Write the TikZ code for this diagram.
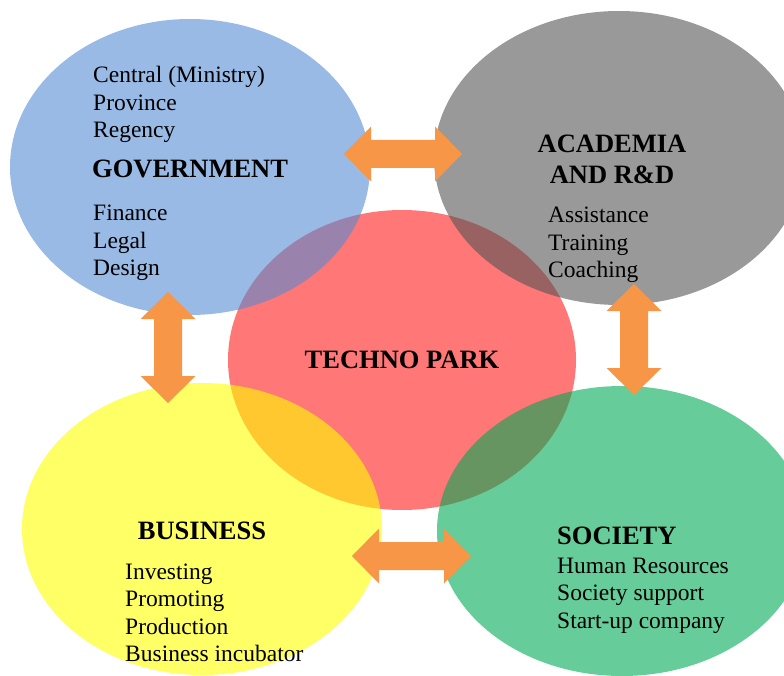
\documentclass[tikz,border=0pt]{standalone}
\usepackage{fontspec}
\setmainfont{Liberation Serif}
\usetikzlibrary{shapes.geometric}
\definecolor{govblue}{RGB}{85,140,210}
\definecolor{acadgray}{RGB}{85,85,85}
\definecolor{parkred}{RGB}{255,119,119}
\definecolor{busyellow}{RGB}{255,255,0}
\definecolor{socgreen}{RGB}{0,170,85}
\definecolor{arroworange}{RGB}{247,150,70}
\begin{document}
\begin{tikzpicture}[x=1pt,y=-1pt,
  blob/.style={ellipse, inner sep=0pt, fill opacity=0.6},
  body/.style={inner sep=0pt, anchor=base west, font=\fontsize{23.5}{27.5}\selectfont},
  head/.style={inner sep=0pt, anchor=base, font=\fontsize{26.5}{31}\selectfont\bfseries},
  pics/blockarrow/.style={code={
    \fill[arroworange] (-#1/2,0) -- (-#1/2+27,-27.5) -- (-#1/2+27,-14) -- (#1/2-27,-14)
      -- (#1/2-27,-27.5) -- (#1/2,0) -- (#1/2-27,27.5) -- (#1/2-27,14)
      -- (-#1/2+27,14) -- (-#1/2+27,27.5) -- cycle;
  }}]
\useasboundingbox (0,0) rectangle (784,676);
\clip (0,0) rectangle (784,676);
% ellipses
\node[ellipse, inner sep=0pt, fill=parkred, minimum width=348pt, minimum height=300pt] (park) at (402,360) {};
\node[blob, fill=govblue, minimum width=360pt, minimum height=296pt] (gov) at (190,167) {};
\node[blob, fill=acadgray, minimum width=370pt, minimum height=294pt] (acad) at (619,158) {};
\node[blob, fill=busyellow, minimum width=360pt, minimum height=292pt] (bus) at (202,529) {};
\node[blob, fill=socgreen, minimum width=370pt, minimum height=290pt] (soc) at (622,531) {};
% arrows
\pic (a1) at (403,154) {blockarrow=118};
\pic (a2) at (411.5,556) {blockarrow=119};
\pic[rotate=90] (a3) at (168,347.5) {blockarrow=111};
\pic[rotate=90] (a4) at (634,339.5) {blockarrow=111};
% government
\node[body] (g1) at (93,83) {Central (Ministry)};
\node[body] (g2) at (93,110.5) {Province};
\node[body] (g3) at (93,138) {Regency};
\node[head, anchor=base west] (gh) at (92,178) {GOVERNMENT};
\node[body] (g4) at (93,221) {Finance};
\node[body] (g5) at (93,248.5) {Legal};
\node[body] (g6) at (93,276) {Design};
% academia
\node[head] (ah1) at (612,153) {ACADEMIA};
\node[head] (ah2) at (612,184) {AND R\&D};
\node[body] (a1t) at (548,223) {Assistance};
\node[body] (a2t) at (548,250.5) {Training};
\node[body] (a3t) at (548,278) {Coaching};
% techno park
\node[head] (ph) at (402,368) {TECHNO PARK};
% business
\node[head] (bh) at (202,539) {BUSINESS};
\node[body] (b1) at (125,579) {Investing};
\node[body] (b2) at (125,606.5) {Promoting};
\node[body] (b3) at (125,634) {Production};
\node[body] (b4) at (125,661.5) {Business incubator};
% society
\node[head, anchor=base west] (sh) at (557,544) {SOCIETY};
\node[body] (s1) at (557,573) {Human Resources};
\node[body] (s2) at (557,600.5) {Society support};
\node[body] (s3) at (557,628) {Start-up company};
\end{tikzpicture}
\end{document}
